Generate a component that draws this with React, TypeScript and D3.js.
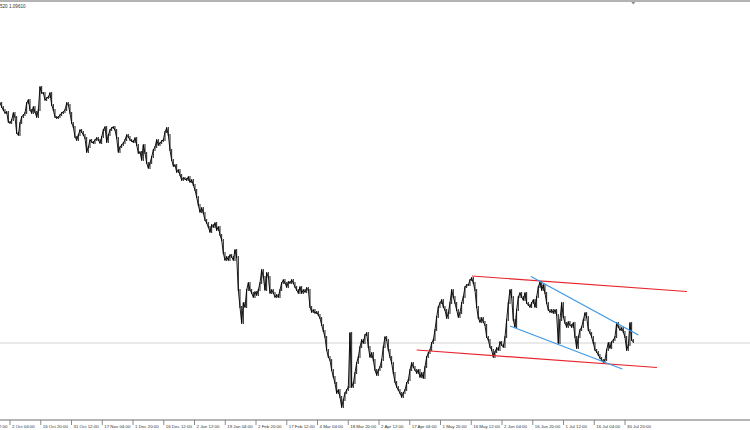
import React from "react";
import * as d3 from "d3";

// Close prices (H4), oldest first
const closes: number[] = [
  1.1441,1.1433,1.1427,1.1421,1.1423,1.1403,1.1401,1.1407,1.1421,1.1413,1.1381,1.1377,1.1401,1.1413,1.1417,1.1421,1.1441,1.1447,1.1427,1.1421,1.1433,
  1.1423,1.1413,1.1427,1.1473,1.1461,1.1461,1.1447,1.1451,1.1453,1.1461,1.1437,1.1427,1.1413,1.1411,1.1413,1.1417,1.1421,1.1423,1.1427,1.1441,
  1.1437,1.1421,1.1401,1.1393,1.1373,1.1367,1.1377,1.1387,1.1383,1.1377,1.1371,1.1343,1.1353,1.1367,1.1363,1.1361,1.1367,1.1371,1.1367,1.1361,
  1.1373,1.1387,1.1393,1.1363,1.1377,1.1387,1.1391,1.1393,1.1387,1.1371,1.1343,1.1353,1.1357,1.1361,1.1367,1.1377,1.1373,1.1367,1.1365,1.1363,
  1.1371,1.1357,1.1341,1.1343,1.1327,1.1357,1.1341,1.1321,1.1311,1.1321,1.1333,1.1347,1.1353,1.1367,1.1357,1.1361,1.1365,1.1367,1.1383,1.1391,
  1.1377,1.1347,1.1327,1.1315,1.1317,1.1303,1.1307,1.1297,1.1287,1.1291,1.1289,1.1287,1.1293,1.1283,1.1287,1.1277,1.1267,1.1253,1.1237,1.1223,
  1.1231,1.1221,1.1207,1.1201,1.1193,1.1183,1.1197,1.1193,1.1201,1.1187,1.1193,1.1177,1.1167,1.1141,1.1127,1.1133,1.1127,1.1137,1.1133,1.1127,
  1.1147,1.1133,1.1067,1.1033,1.1001,1.1041,1.1033,1.1067,1.1081,1.1067,1.1061,1.1053,1.1063,1.1057,1.1067,1.1081,1.1107,1.1093,1.1067,1.1101,
  1.1093,1.1061,1.1067,1.1061,1.1053,1.1057,1.1053,1.1067,1.1081,1.1087,1.1081,1.1073,1.1083,1.1081,1.1087,1.1081,1.1073,1.1067,1.1061,1.1073,
  1.1061,1.1067,1.1063,1.1071,1.1067,1.1033,1.1023,1.1027,1.1021,1.1023,1.1017,1.1011,1.0997,1.0985,1.0973,1.0947,1.0933,1.0927,1.0907,1.0893,
  1.0881,1.0861,1.0867,1.0853,1.0833,1.0847,1.0861,1.0867,1.0873,1.0981,1.0873,1.0881,1.0901,1.0921,1.0933,1.0953,1.0967,1.0961,1.0977,1.0981,
  1.0953,1.0933,1.0941,1.0927,1.0907,1.0897,1.0907,1.0913,1.0927,1.0953,1.0973,1.0967,1.0947,1.0933,1.0921,1.0901,1.0883,1.0873,1.0867,1.0861,
  1.0853,1.0861,1.0867,1.0881,1.0887,1.0907,1.0921,1.0913,1.0907,1.0901,1.0907,1.0893,1.0901,1.0891,1.0913,1.0933,1.0941,1.0947,1.0961,1.0967,
  1.0987,1.1013,1.1033,1.1041,1.1047,1.1033,1.1027,1.1011,1.1021,1.1041,1.1067,1.1053,1.1041,1.1027,1.1013,1.1021,1.1041,1.1053,1.1073,1.1077,
  1.1077,1.1087,1.1091,1.1081,1.1067,1.1033,1.1011,1.1003,1.1011,1.1003,1.0997,1.0973,1.0967,1.0953,1.0947,1.0933,1.0943,1.0951,1.0947,1.0963,
  1.0957,1.0953,1.0973,1.1007,1.1041,1.1067,1.1053,1.1007,1.0993,1.1027,1.1053,1.1061,1.1053,1.1047,1.1061,1.1041,1.1037,1.1033,1.1041,1.1047,
  1.1033,1.1053,1.1073,1.1083,1.1067,1.1077,1.1061,1.1041,1.1027,1.1023,1.1027,1.1021,1.1027,1.1017,1.0961,1.1007,1.1041,1.1013,1.1001,1.0993,
  1.1003,1.0997,1.0993,1.1001,1.0973,1.0951,1.0973,1.0987,1.0993,1.1007,1.1021,1.1013,1.0987,1.0981,1.0973,1.0961,1.0947,1.0943,1.0937,1.0931,
  1.0927,1.0923,1.0927,1.0947,1.0961,1.0951,1.0963,1.0967,1.0973,1.1001,1.0993,1.0987,1.0991,1.0983,1.0973,1.0947,1.0957,1.1001,1.0967,1.0963,
];

const tickLabels: string[] = [
  "15 Sep 12:00", "2 Oct 04:00", "16 Oct 20:00", "31 Oct 12:00", "17 Nov 04:00", "1 Dec 20:00",
  "16 Dec 12:00", "2 Jan 12:00", "19 Jan 04:00", "2 Feb 20:00", "17 Feb 12:00", "4 Mar 04:00",
  "18 Mar 20:00", "2 Apr 12:00", "17 Apr 04:00", "1 May 20:00", "16 May 12:00", "2 Jun 04:00",
  "16 Jun 20:00", "1 Jul 12:00", "16 Jul 04:00", "30 Jul 20:00",
];

const bidPrice = 1.0961;
const headerText = "520 1.09610";

// trend lines: [barIndex, price] pairs
const redLines: [number, number][][] = [
  [[283.2, 1.1095], [412.2, 1.1064]],
  [[250.0, 1.0947], [394.2, 1.0912]],
];
const blueLines: [number, number][][] = [
  [[318.6, 1.1094], [383.0, 1.0977]],
  [[306.0, 1.0995], [373.4, 1.0909]],
];

const W = 750;
const H = 430;
const FONT = "'Liberation Sans', Arial, sans-serif";

export default function App() {
  const n = closes.length;
  const x = d3.scaleLinear().domain([0, n - 1]).range([0, 633.3]);
  const y = d3.scaleLinear().domain([1.0787, 1.1647]).range([430, 0]);
  const tickX = d3.scaleLinear().domain([0, tickLabels.length - 1]).range([-20.75, 625]);
  const axisY = 420;
  const wick = 0.0002;

  const line = d3
    .line<number>()
    .x((_, i) => x(i))
    .y((d) => y(d));

  const bars = closes.map((c, i) => {
    const p = i > 0 ? closes[i - 1] : c;
    return { i, hi: Math.max(p, c) + wick, lo: Math.min(p, c) - wick };
  });

  return (
    <svg
      width={W}
      height={H}
      style={{ position: "fixed", left: 0, top: 0, background: "#fff" }}
    >
      <rect x={0} y={0} width={W} height={H} fill="#fff" />
      {/* top border */}
      <line x1={0} x2={W} y1={1} y2={1} stroke="#9a9a9a" strokeWidth={1.5} />
      <text x={0} y={7.5} fontFamily={FONT} fontSize={4.6} fill="#333">
        {headerText}
      </text>
      {/* chart shift marker */}
      <path
        d={`M${x(n - 1) - 2},2 L${x(n - 1) + 2},2 L${x(n - 1)},4.5 Z`}
        fill="#888"
      />
      {/* bid line */}
      <line x1={0} x2={W} y1={y(bidPrice)} y2={y(bidPrice)} stroke="#d4d4d4" strokeWidth={1} />

      {/* price bars */}
      <g stroke="#000" strokeWidth={0.9}>
        {bars.map((b) => (
          <line key={b.i} x1={x(b.i)} x2={x(b.i)} y1={y(b.hi)} y2={y(b.lo)} />
        ))}
      </g>
      <path d={line(closes) || ""} fill="none" stroke="#000" strokeWidth={0.9} />

      {/* trend lines */}
      {redLines.map((l, k) => (
        <line
          key={"r" + k}
          x1={x(l[0][0])}
          y1={y(l[0][1])}
          x2={x(l[1][0])}
          y2={y(l[1][1])}
          stroke="#e8242c"
          strokeWidth={1.2}
        />
      ))}
      {blueLines.map((l, k) => (
        <line
          key={"b" + k}
          x1={x(l[0][0])}
          y1={y(l[0][1])}
          x2={x(l[1][0])}
          y2={y(l[1][1])}
          stroke="#3c98e6"
          strokeWidth={1.2}
        />
      ))}

      {/* time axis */}
      <line x1={0} x2={W} y1={axisY} y2={axisY} stroke="#6e6e6e" strokeWidth={1} />
      {tickLabels.map((t, k) => (
        <g key={t}>
          <line
            x1={tickX(k)}
            x2={tickX(k)}
            y1={axisY}
            y2={axisY + 5}
            stroke="#6e6e6e"
            strokeWidth={0.8}
          />
          <text x={tickX(k) + 2} y={axisY + 7.5} fontFamily={FONT} fontSize={4.4} fill="#333">
            {t}
          </text>
        </g>
      ))}
    </svg>
  );
}
